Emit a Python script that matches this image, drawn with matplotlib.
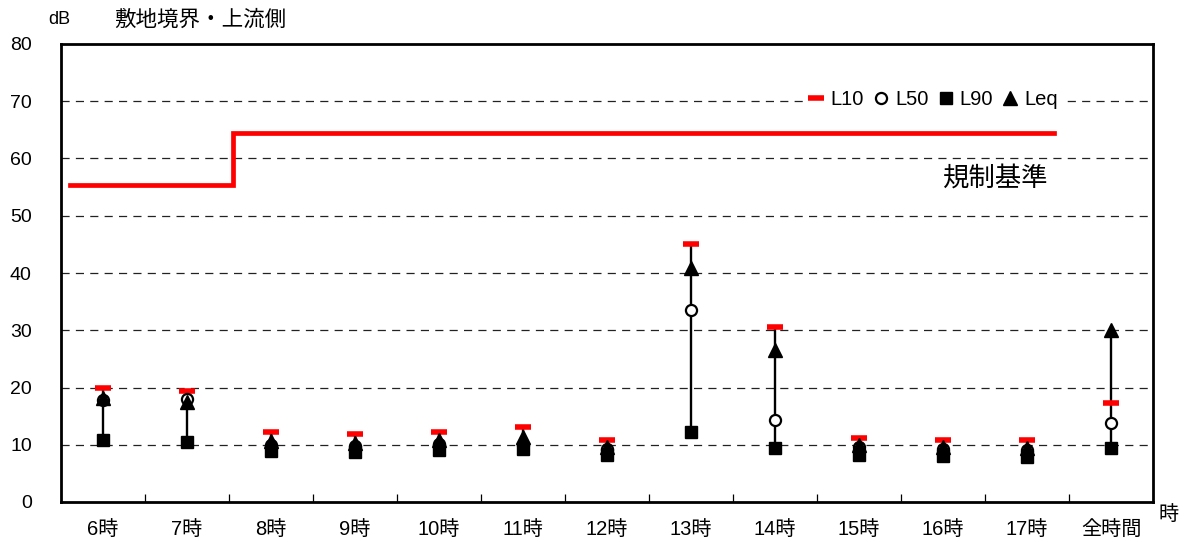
import matplotlib
matplotlib.use("Agg")
import matplotlib.pyplot as plt
from matplotlib.lines import Line2D
import numpy as np

plt.rcParams['font.family'] = ['Liberation Sans', 'Noto Sans CJK JP', 'DejaVu Sans']

categories = ['6時', '7時', '8時', '9時', '10時', '11時', '12時', '13時', '14時', '15時', '16時', '17時', '全時間']
L10 = [19.9, 19.4, 12.3, 11.9, 12.3, 13.1, 10.8, 45.1, 30.6, 11.2, 10.9, 10.9, 17.3]
L50 = [17.9, 18.0, 10.0, 9.8, 10.2, 10.0, 9.2, 33.5, 14.3, 9.6, 9.3, 9.0, 13.8]
L90 = [10.9, 10.5, 8.9, 8.7, 9.1, 9.2, 8.2, 12.2, 9.4, 8.2, 8.0, 7.8, 9.4]
Leq = [18.2, 17.5, 10.7, 10.3, 10.8, 11.3, 9.6, 40.9, 26.5, 9.9, 9.6, 9.4, 30.0]

# regulation standard (step line), positions in category units
reg_x = [-0.39, 1.55, 1.55, 11.32]
reg_y = [55.3, 55.3, 64.4, 64.4]

fig = plt.figure(figsize=(11.86, 5.42), dpi=100)
ax = fig.add_axes([61/1186, 40/542, 1092/1186, 458/542])

x = np.arange(len(categories))

# grid
for gy in range(10, 80, 10):
    ax.axhline(gy, color='#222222', lw=0.9, linestyle=(0, (6.5, 5)), zorder=1)

# regulation line
ax.plot(reg_x, reg_y, color='#ff0000', lw=3.4, solid_joinstyle='miter', zorder=3)

# vertical range lines
for i in range(len(categories)):
    vals = [L10[i], L50[i], L90[i], Leq[i]]
    ax.plot([x[i], x[i]], [min(vals), max(vals)], color='black', lw=1.7, zorder=4)

ax.plot(x, L10, linestyle='none', marker='_', markersize=11, mew=4, color='#ff0000', zorder=5)
ax.plot(x, L50, linestyle='none', marker='o', markersize=8, mfc='white', mec='black', mew=1.6, zorder=6)
ax.plot(x, L90, linestyle='none', marker='s', markersize=9, color='black', zorder=7)
ax.plot(x, Leq, linestyle='none', marker='^', markersize=10, color='black', zorder=8)

ax.set_xlim(-0.5, len(categories) - 0.5)
ax.set_ylim(0, 80)
ax.set_yticks(range(0, 90, 10))
ax.tick_params(axis='y', length=0, pad=21, labelsize=14)
ax.set_xticks(x)
ax.set_xticklabels(categories)
ax.tick_params(axis='x', which='major', length=0, pad=13, labelsize=14.5)
ax.set_xticks(np.arange(0.5, len(categories) - 0.5, 1), minor=True)
ax.tick_params(axis='x', which='minor', direction='in', length=6, width=0.9)

for s in ax.spines.values():
    s.set_linewidth(2)
    s.set_color('black')

ax.text(10.0, 56.6, '規制基準', fontsize=19, va='center', ha='left', zorder=9)

handles = [
    Line2D([], [], linestyle='none', marker='_', markersize=11, mew=4, color='#ff0000'),
    Line2D([], [], linestyle='none', marker='o', markersize=8, mfc='white', mec='black', mew=1.6),
    Line2D([], [], linestyle='none', marker='s', markersize=9, color='black'),
    Line2D([], [], linestyle='none', marker='^', markersize=10, color='black'),
]
leg = ax.legend(handles, ['L10', 'L50', 'L90', 'Leq'], ncol=4, loc='center right',
                bbox_to_anchor=(0.926, 0.878), frameon=True, fancybox=False,
                edgecolor='none', facecolor='white', framealpha=1,
                handlelength=0.8, handletextpad=0.3, columnspacing=0.45,
                borderpad=0.2, fontsize=14.5)
leg.set_zorder(10)

fig.text(48/1186, 1 - 20/542, 'dB', fontsize=13, va='center', ha='left')
fig.text(114/1186, 1 - 20/542, '敷地境界・上流側', fontsize=15.5, va='center', ha='left')
fig.text(1158/1186, 1 - 515/542, '時', fontsize=14.5, va='center', ha='left')

fig.savefig('out.png', dpi=100)
